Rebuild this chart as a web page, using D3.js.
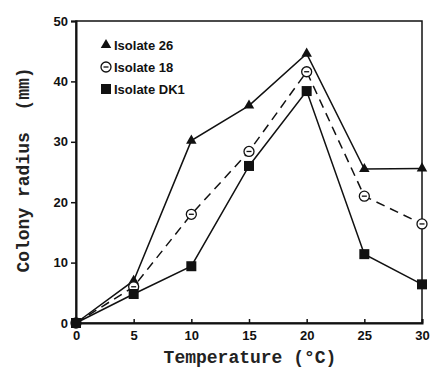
<!DOCTYPE html>
<html>
<head>
<meta charset="utf-8">
<script src="https://cdn.jsdelivr.net/npm/d3@7"></script>
<style>
  body { margin: 0; background: #fff; }
  svg { display: block; }
</style>
</head>
<body>
<svg id="canvas"></svg>
<script>
const temps = [0, 5, 10, 15, 20, 25, 30]
const isolate26 = [0, 7, 30.2, 36, 44.6, 25.5, 25.6]
const isolate18 = [0, 6, 18, 28.4, 41.6, 21, 16.4]
const isolateDK1 = [0, 4.8, 9.4, 26, 38.4, 11.4, 6.4]
const xTicks = [0, 5, 10, 15, 20, 25, 30]
const yTicks = [0, 10, 20, 30, 40, 50]

const series = [
  { name: 'Isolate 26', values: isolate26, marker: 'triangle', dash: null },
  { name: 'Isolate 18', values: isolate18, marker: 'circle', dash: '9,6' },
  { name: 'Isolate DK1', values: isolateDK1, marker: 'square', dash: null }
]

const w = 430
const h = 370
const canvas = d3.select('#canvas').attr('width', w).attr('height', h)

const x = d3.scaleLinear().domain([0, 30]).range([76, 422])
const y = d3.scaleLinear().domain([0, 50]).range([323, 21])

// frame
canvas.append('rect')
      .attr('x', x(0)).attr('y', y(50))
      .attr('width', x(30) - x(0)).attr('height', y(0) - y(50))
      .attr('fill', 'none').attr('stroke', '#111').attr('stroke-width', 1.5)

const tickFont = 'bold 13px "Liberation Sans", Arial, sans-serif'

const xAxis = d3.axisBottom(x).tickValues(xTicks).tickSize(-4).tickPadding(8)
canvas.append('g')
      .attr('transform', `translate(0,${y(0)})`)
      .call(xAxis)
      .call(g => g.select('.domain').attr('stroke-width', 2).attr('stroke', '#111'))
      .call(g => g.selectAll('.tick line').attr('stroke', '#111').attr('stroke-width', 1.5))
      .call(g => g.selectAll('.tick text').style('font', tickFont).attr('fill', '#111'))

const yAxis = d3.axisLeft(y).tickValues(yTicks).tickSize(5).tickPadding(3)
canvas.append('g')
      .attr('transform', `translate(${x(0)},0)`)
      .call(yAxis)
      .call(g => g.select('.domain').attr('stroke-width', 2).attr('stroke', '#111'))
      .call(g => g.selectAll('.tick line').attr('stroke', '#111').attr('stroke-width', 1.5))
      .call(g => g.selectAll('.tick text').style('font', tickFont).attr('fill', '#111'))

// axis titles
canvas.append('text')
      .attr('x', 250).attr('y', 363)
      .attr('text-anchor', 'middle')
      .style('font', 'bold 18px "Liberation Mono", "Courier New", monospace')
      .attr('fill', '#222')
      .attr('xml:space', 'preserve')
      .text('Temperature (°C)')

canvas.append('text')
      .attr('transform', 'translate(29,170) rotate(-90)')
      .attr('text-anchor', 'middle')
      .style('font', 'bold 18px "Liberation Mono", "Courier New", monospace')
      .attr('fill', '#222')
      .attr('xml:space', 'preserve')
      .text('Colony radius  (mm)')

const line = d3.line().x((d, i) => x(temps[i])).y(d => y(d))

const drawMarker = (g, type, cx, cy) => {
  if (type === 'triangle') {
    g.append('path')
     .attr('d', d3.symbol(d3.symbolTriangle, 48)())
     .attr('transform', `translate(${cx},${cy})`)
     .attr('fill', '#111')
  } else if (type === 'circle') {
    g.append('circle').attr('cx', cx).attr('cy', cy).attr('r', 5)
     .attr('fill', '#fff').attr('stroke', '#111').attr('stroke-width', 1.3)
    g.append('line').attr('x1', cx - 2.5).attr('x2', cx + 2.5).attr('y1', cy).attr('y2', cy)
     .attr('stroke', '#111').attr('stroke-width', 1.3)
  } else {
    g.append('rect').attr('x', cx - 5).attr('y', cy - 5).attr('width', 10).attr('height', 10)
     .attr('fill', '#111')
  }
}

series.forEach(s => {
  canvas.append('path')
        .datum(s.values)
        .attr('d', line)
        .attr('fill', 'none')
        .attr('stroke', '#111')
        .attr('stroke-width', 1.5)
        .attr('stroke-dasharray', s.dash)
  const g = canvas.append('g')
  s.values.forEach((v, i) => drawMarker(g, s.marker, x(temps[i]), y(v)))
})

// legend
const legend = canvas.append('g')
series.forEach((s, i) => {
  const ly = 45 + i * 22
  drawMarker(legend, s.marker, 106, ly)
  legend.append('text')
        .attr('x', 114).attr('y', ly + 5)
        .style('font', 'bold 13px "Liberation Sans", Arial, sans-serif')
        .attr('fill', '#111')
        .text(s.name)
})
</script>
</body>
</html>
